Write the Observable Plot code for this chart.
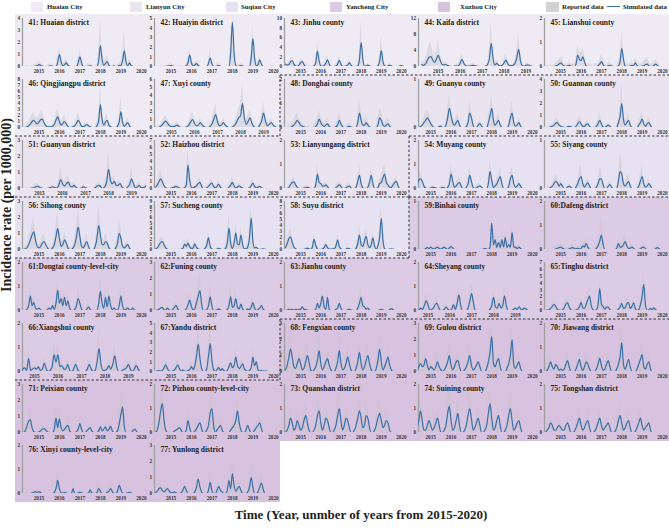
<!DOCTYPE html>
<html><head><meta charset="utf-8">
<script src="https://cdn.jsdelivr.net/npm/d3@7"></script>
<script src="https://cdn.jsdelivr.net/npm/@observablehq/plot@0.6"></script>
<style>
body{margin:0;background:#fff;}
#chart{position:relative;width:669px;height:529px;overflow:hidden;background:#fff;font-family:"Liberation Serif","Times New Roman",serif;color:#222;}
.lg{position:absolute;font-weight:bold;font-size:6.8px;line-height:11px;top:1px;white-space:nowrap;}
.sw{position:absolute;top:2px;height:10px;}
</style></head>
<body><div id="chart"></div>
<script>
// ---------- panel metadata ----------
const panelNo = [41,42,43,44,45,46,47,48,49,50,51,52,53,54,55,56,57,58,59,60,61,62,63,64,65,66,67,68,69,70,71,72,73,74,75,76,77];
const panelName = ["Huaian district","Huaiyin district","Jinhu county","Kaifa district","Lianshui county","Qingjiangpu district","Xuyi county","Donghai county","Guanyu county","Guannan county","Guanyun district","Haizhou district","Lianyungang district","Muyang county","Siyang county","Sihong county","Sucheng county","Suyu district","Binhai county","Dafeng district","Dongtai county-level-city","Funing county","Jianhu county","Sheyang county","Tinghu district","Xiangshui county","Yandu district","Fengxian county","Gulou district","Jiawang district","Peixian county","Pizhou county-level-city","Quanshan district","Suining county","Tongshan district","Xinyi county-level-city","Yunlong district"];
const panelCity = [0,0,0,0,0,0,0,1,1,1,1,1,1,2,2,2,2,2,3,3,3,3,3,3,3,3,3,4,4,4,4,4,4,4,4,4,4];
const yMax  = [4,5,10,12,2, 8,6,2,1,4, 3,7,2,2,1, 3,9,8,1,2, 2,3,2,2,7, 2,5,3,3,2, 3,2,2,2,2, 2,3];
const yStep = [1,1,2,4,1, 1,1,1,1,1, 1,1,1,1,1, 1,1,1,1,1, 1,1,1,1,1, 1,1,1,1,1, 1,1,1,1,1, 1,1];
const xStart = [2014.2,2014.2,2014.2,2014.1,2014.2, 2014.2,2014.26,2014.2,2014.4,2014.2, 2014.26,2014.2,2014.2,2014.4,2014.2, 2014.2,2014.2,2014.2,2014.4,2014.2, 2014.2,2014.2,2014.2,2014.57,2014.2, 2014.49,2014.2,2014.2,2014.4,2014.2, 2014.2,2014.2,2014.2,2014.4,2014.2, 2014.2,2014.2];
const xEnd = [2020.25,2020.25,2020.25,2019.48,2020.25, 2020.25,2019.65,2020.25,2020.2,2020.25, 2019.65,2020.25,2020.25,2020.2,2020.25, 2020.25,2020.25,2020.25,2020.2,2020.25, 2020.25,2020.25,2020.25,2019.96,2020.25, 2019.77,2020.25,2020.25,2020.2,2020.25, 2020.25,2020.25,2020.25,2020.2,2020.25, 2020.25,2020.25];
const lastYear = [2020,2020,2020,2019,2020, 2020,2019,2020,2020,2020, 2019,2020,2020,2020,2020, 2020,2020,2020,2020,2020, 2020,2020,2020,2019,2020, 2019,2020,2020,2020,2020, 2020,2020,2020,2020,2020, 2020,2020];
const cityName = ["Huaian City","Lianyun City","Suqian City","Yancheng City","Xuzhou City"];
const cityColor = ["#eeebf5","#eae4f1","#e6e2f1","#dccbe5","#d7c3e0"];
const titleColon = [": ",": ",": ",":",": "];
const seriesStart = 2014.25; // first monthly value (April 2014)

// ---------- monthly values: simulated (s) and reported (r) ----------
const s41=[0,0,0,0,0,0,0,.03,.06, .15,.1,.03,0,0,0,.03,.05,.02,0,0,.35, 1.0,.4,.05,.15,.3,.12,0,0,0,0,0,.3, .8,.3,0,0,0,.03,.05,.02,0,0,0,.5, 1.75,.6,.1,.25,.4,.1,0,0,.05,0,0,.1, .1,.5,1.3,.4,.05,.3,.1,0,0,0,0,0, 0,0];
const r41=[0,0,.1,0,0,.1,.1,.2,.2, .4,.3,.1,.1,0,.1,.2,.2,.1,0,.1,.8, 1.6,.9,.2,.4,.6,.3,.1,0,0,0,.1,.6, 1.4,.7,.1,0,.1,.2,.2,.1,0,0,.2,1.2, 4.0,1.2,.4,.6,.9,.3,.1,.1,.2,0,.1,.3, .4,1.2,3.0,.9,.2,.6,.4,.1,0,0,0,.1, .1,0];
const s42=[0,0,0,0,0,0,0,.03,.06, .1,.05,0,0,0,0,0,0,0,.05,.4,1.2, .4,.05,.15,.3,.1,0,0,0,0,0,.3,.9, .3,0,0,.05,.1,.03,0,0,0,0,0,1.4, 4.6,1.4,.1,0,.05,.1,.05,0,0,0,0,.9, 2.9,.9,.05,.2,.7,.25,0,0,0,0,0,0, 0,0];
const r42=[0,0,.1,0,.1,.1,.1,.1,.2, .3,.2,.1,0,0,.1,0,0,.1,.2,.8,1.9, .8,.3,.4,.6,.3,.1,0,0,0,.1,.6,1.6, .6,.1,.1,.2,.3,.1,0,0,0,0,.2,2.2, 5.0,2.2,.4,.2,.2,.3,.2,.1,0,0,.1,1.6, 4.2,1.6,.3,.5,1.2,.5,.1,0,0,0,0,.1, .1,0];
const s43=[.5,.3,.4,1.0,1.2,.5,.1,0,.3, .8,1.0,.4,0,0,0,0,0,.1,.8,3.2,1.2, .1,0,.2,.7,1.4,.5,0,0,0,.1,.5,1.3, .5,0,0,.1,.3,.8,.3,0,0,0,.1,1.5, 5.0,1.6,.1,.1,.3,.1,0,0,0,0,.1,1.1, 3.3,1.0,.1,0,.1,.3,.1,0,0,0,0,.1, .2,.1];
const r43=[.8,.6,.7,1.6,2.0,.9,.3,.2,.6, 1.4,1.6,.8,.2,.1,.2,.1,.1,.3,1.5,5.0,2.0, .4,.2,.5,1.2,2.2,.9,.2,.1,.1,.3,.9,2.2, 1.0,.2,.2,.3,.6,1.4,.6,.1,.1,.1,.4,2.5, 9.5,3.0,.4,.3,.6,.3,.1,.1,0,.1,.3,2.0, 6.5,2.0,.3,.1,.3,.6,.2,.1,0,.1,.1,.3, .4,.2];
const s44=[.5,.3,.6,1.5,2.3,2.5,1.6,1.0,1.8, 2.8,1.6,.6,.4,.5,.3,.1,0,0,.1,.1,.2, .8,1.8,.8,.2,.1,.1,.2,.3,.2,.1,0,0, 0,0,.1,.5,2.0,5.8,2.0,.4,.8,.3,.1,.3, .9,1.6,.7,.2,.2,.3,.8,2.2,4.3,1.4,.2,.1, .3,.4,.2,.1,0,0,0,0,0,0,0,0, 0,0];
const r44=[1.5,1.2,2.0,3.5,5.5,6.0,4.0,2.5,4.0, 6.5,3.5,1.5,1.0,1.2,.8,.3,.1,.1,.3,.3,.5, 1.8,3.2,1.6,.5,.3,.3,.5,.8,.5,.2,.1,.1, .1,.1,.3,1.2,4.5,11.5,4.0,1.0,1.8,.7,.3,.6, 1.8,3.5,1.5,.5,.5,.7,1.6,4.5,8.0,3.0,.5,.2, .7,.9,.5,.2,.1,0,0,0,0,0,0,0, 0,0];
const s45=[0,0,0,0,0,0,.02,.05,.1, .15,.08,.02,0,.03,.05,.02,0,0,.1,.47,.3, .25,.4,.2,.02,0,0,0,0,0,0,.03,.1, .2,.08,0,0,.03,.05,.02,0,0,0,.02,.2, .76,.3,.02,0,0,.02,.05,.03,.15,.05,0,0, .02,.03,.08,.1,.03,0,0,.05,.1,.04,0,0, 0,0];
const r45=[0,.1,0,.1,0,.1,.1,.2,.3, .4,.3,.1,.1,.1,.2,.1,.1,.1,.3,.9,.6, .6,.8,.5,.1,.1,.1,.1,0,.1,.1,.1,.3, .5,.3,.1,.1,.1,.2,.1,.1,0,0,.2,.5, 1.4,.7,.2,.1,.1,.1,.2,.1,.4,.2,.1,.1, .1,.2,.3,.4,.2,.1,.1,.2,.3,.2,.1,0, 0,0];
const s46=[0,0,.1,.3,.6,1.0,1.2,.8,.6, .9,1.3,1.4,.8,.3,.1,.1,.1,.2,.5,1.2,1.8, 1.0,.4,.7,1.0,.6,.2,0,0,.1,.3,.7,1.2, .8,.2,.1,.3,.5,.3,.1,0,0,0,.3,1.2, 3.8,1.3,.4,.9,1.2,.4,.1,0,0,0,.2,.9, 2.6,.9,.2,.5,.8,.3,0,0,0,0,0,0, 0,0];
const r46=[.3,.3,.5,.8,1.5,2.2,2.6,1.8,1.4, 2.0,2.6,2.8,1.6,.7,.3,.3,.3,.5,1.0,2.3,3.2, 2.0,1.0,1.4,2.0,1.2,.5,.1,.1,.3,.7,1.4,2.4, 1.6,.5,.3,.6,1.0,.6,.2,.1,.1,.1,.6,2.5, 7.0,2.5,.9,1.8,2.3,.9,.3,.1,.1,.1,.5,1.8, 5.0,1.8,.5,1.0,1.6,.6,.1,.1,0,0,.1,.1, 0,0];
const s47=[0,0,0,.1,.3,.6,.8,.5,.2, .1,.1,.2,.3,.1,0,0,0,.1,.3,.7,1.0, .5,.2,.3,.6,.3,.1,0,0,.1,.4,1.0,1.6, .7,.2,.3,.6,.3,.1,0,0,.1,.3,.7,1.2, 1.5,3.0,1.2,.4,.8,1.2,.5,.1,0,0,.3,.8, 1.8,.8,.2,.4,.6,.3,.1,0,0,0,0,0, 0,0];
const r47=[.1,.1,.2,.3,.6,1.2,1.5,1.0,.5, .4,.3,.5,.7,.3,.1,.1,.1,.2,.6,1.4,2.0, 1.1,.5,.7,1.2,.7,.3,.1,.1,.3,.8,2.0,3.0, 1.4,.5,.6,1.2,.7,.2,.1,.1,.2,.6,1.4,2.4, 3.0,5.5,2.4,.8,1.6,2.2,1.0,.3,.1,.1,.6,1.6, 3.4,1.6,.5,.8,1.2,.6,.2,.1,0,0,0,0, 0,0];
const s48=[0,0,0,0,.05,.1,.2,.3,.2, .1,.05,.02,0,0,0,0,0,0,.05,.15,.35, .2,.1,.05,.1,.15,.05,0,0,0,.03,.1,.3, .15,.03,0,0,.03,.05,.02,0,0,0,.2,.6, .3,.1,.1,.2,.1,.03,0,0,0,0,.1,.4, .3,.1,.05,.1,.15,.05,0,0,0,0,0,0, 0,0];
const r48=[0,0,.1,.1,.2,.3,.5,.6,.4, .3,.2,.1,.1,0,.1,0,0,.1,.2,.4,.7, .5,.3,.2,.3,.4,.2,.1,0,0,.1,.3,.6, .4,.1,.1,0,.1,.2,.1,0,0,.1,.5,1.2, .7,.3,.3,.5,.3,.1,0,0,0,.1,.3,.8, .7,.3,.2,.3,.4,.2,.1,0,0,0,0,0, 0,0];
const s49=[0,0,0,.02,.05,.1,.15,.2,.15, .08,.03,0,0,0,.02,.03,0,0,.05,.2,.4, .25,.1,.05,.1,.15,.05,0,0,0,.02,.1,.3, .2,.05,0,0,.05,.08,.03,0,0,0,.1,.25, .4,.15,.05,.1,.15,.05,0,0,0,0,.05,.2, .3,.1,.03,.05,.1,.03,0,0,0,0,0,0, 0,0];
const r49=[0,0,.05,.05,.1,.2,.3,.35,.3, .15,.08,.02,0,0,.05,.05,0,0,.1,.35,.7, .45,.2,.1,.2,.3,.1,0,0,0,.05,.2,.55, .35,.1,0,0,.1,.15,.05,0,0,0,.2,.45, .7,.3,.1,.2,.3,.1,0,0,0,0,.1,.35, .55,.2,.05,.1,.2,.1,0,0,0,0,0,0, 0,0];
const s50=[0,0,0,.05,.1,.2,.35,.4,.2, .1,.05,0,0,.05,.1,.05,0,0,.1,.3,.5, .3,.1,.1,.25,.3,.1,0,0,0,.1,.3,.6, .3,.05,0,.1,.2,.1,0,0,0,0,.4,.9, 2.0,.7,.2,.4,.6,.2,0,0,0,0,.2,.4, .7,.3,.1,.3,.4,.15,0,0,0,0,0,0, 0,0];
const r50=[0,0,.1,.1,.3,.4,.7,.8,.4, .2,.1,.1,0,.1,.2,.1,0,0,.2,.6,1.0, .6,.2,.2,.5,.6,.2,0,0,0,.2,.6,1.2, .6,.1,0,.2,.4,.2,0,0,0,0,.8,1.8, 3.8,1.4,.4,.8,1.1,.4,.1,0,0,0,.4,.8, 1.4,.6,.2,.6,.8,.3,0,0,0,0,0,0, 0,0];
const s51=[0,0,0,0,0,.02,.05,.1,.15, .08,.02,0,0,0,.03,.08,.1,.05,.02,.2,.55, .3,.15,.3,.4,.15,.1,.2,.08,0,0,.05,.1, .05,0,0,0,0,.05,.15,.2,.1,0,.1,.4, 1.2,.5,.3,.45,.2,.2,.3,.1,0,0,.1,.25, .6,.3,.05,.1,.2,.05,.05,.1,.2,.1,0,0, 0,0];
const r51=[0,0,.05,.05,.1,.1,.2,.3,.3, .2,.1,.05,0,.05,.1,.2,.2,.1,.05,.5,1.4, .7,.4,.6,.8,.4,.3,.4,.2,.1,0,.1,.3, .1,.1,.05,0,.05,.1,.3,.4,.2,.1,.3,.9, 2.3,1.0,.6,.8,.4,.4,.5,.2,.1,0,.2,.5, 1.4,.6,.2,.2,.4,.1,.1,.2,.4,.2,0,0, 0,0];
const s52=[.2,.5,1.0,1.4,1.0,.4,.1,0,0, .05,.1,.2,.3,.2,.05,0,0,.1,.5,3.4,1.2, .2,.1,.2,.4,.7,.9,.3,0,0,.1,.3,.6, .8,.3,.1,.3,.6,.2,0,0,0,0,.2,.5, .9,.4,.1,.2,.4,.2,.05,0,0,0,.1,.4, .8,.3,.1,.2,.3,.1,0,0,0,0,0,0, 0,0];
const r52=[.3,.9,1.8,2.6,1.8,.8,.2,.1,.1, .2,.3,.4,.6,.4,.1,0,.1,.3,1.1,5.5,2.3, .5,.3,.4,.8,1.2,1.6,.6,.1,.1,.3,.6,1.2, 1.5,.6,.3,.6,1.1,.4,.1,0,0,.1,.4,1.0, 1.7,.8,.3,.4,.8,.4,.1,0,0,0,.2,.8, 1.5,.6,.3,.4,.6,.2,0,0,0,0,0,0, 0,0];
const s53=[0,0,.05,.15,.25,.28,.15,.05,0, 0,0,.02,.03,.05,.03,0,0,0,.15,.6,.25, .2,.1,.1,.15,.08,0,0,0,0,.03,.1,.15, .08,0,0,.03,.08,.1,.03,0,0,.05,.3,.55, .2,.02,0,0,.05,.25,.55,.2,0,0,.05,.2, .25,.45,.6,.25,.15,.05,.05,.15,.25,.3,.1,0, 0,0];
const r53=[0,.05,.1,.3,.4,.5,.3,.1,.05, .05,.05,.1,.1,.1,.05,0,0,.05,.3,1.0,.5, .4,.2,.2,.3,.2,.05,0,0,0,.1,.2,.3, .2,.05,0,.1,.2,.2,.1,0,0,.1,.5,1.0, .4,.1,.05,0,.1,.4,.9,.4,.1,0,.1,.4, .5,.8,1.0,.5,.3,.1,.1,.3,.4,.5,.2,0, 0,0];
const s54=[.1,.2,.35,.4,.3,.1,.02,0,0, .02,.05,.05,.02,0,0,.02,.05,.03,0,.05,.2, .6,.3,.05,.1,.2,.25,.1,0,0,.05,.2,.55, .3,.05,0,.03,.08,.1,.05,0,0,0,.2,.7, .35,.05,.1,.2,.35,.5,.2,0,0,0,.1,.4, .55,.2,.05,.1,.2,.1,0,0,0,0,0,0, 0,0];
const r54=[.2,.4,.6,.7,.5,.2,.1,0,0, .05,.1,.1,.05,0,0,.05,.1,.05,0,.1,.4, 1.0,.6,.1,.2,.4,.5,.2,0,0,.1,.4,.9, .5,.1,0,.1,.2,.2,.1,0,0,0,.4,1.1, .6,.1,.2,.4,.6,.9,.4,.1,0,0,.2,.7, .9,.4,.1,.2,.4,.2,0,0,0,0,0,0, 0,0];
const s55=[0,0,0,.02,.05,.1,.15,.12,.05, .1,.05,0,0,.03,.05,.02,0,0,.03,.1,.2, .25,.1,.03,.08,.12,.05,0,0,0,.03,.1,.2, .2,.08,0,0,.05,.08,.03,0,0,0,.15,.35, .3,.1,.05,.1,.15,.05,0,0,0,0,.05,.15, .25,.1,.03,.05,.1,.05,0,0,0,0,0,0, 0,0];
const r55=[0,0,.05,.05,.1,.2,.3,.25,.1, .2,.1,.05,0,.05,.1,.05,0,0,.05,.2,.4, .5,.2,.05,.15,.25,.1,0,0,0,.05,.2,.4, .4,.15,0,0,.1,.15,.05,0,0,0,.3,.7, .6,.2,.1,.2,.3,.1,0,0,0,0,.1,.3, .5,.2,.05,.1,.2,.1,0,0,0,0,0,0, 0,0];
const s56=[0,.05,.1,.3,.6,.9,1.1,.6,.2, .1,.2,.4,.5,.3,.1,0,0,.1,.3,.8,1.3, .7,.2,.3,.6,.4,.1,0,0,.1,.3,.8,1.4, .8,.2,.1,.3,.5,.2,0,0,0,.2,.7,1.5, .9,.3,.3,.5,.4,.1,0,0,0,.1,.4,1.0, .7,.2,.1,.2,.3,.1,0,0,0,0,0,0, 0,0];
const r56=[.1,.2,.3,.6,1.1,1.6,2.0,1.2,.5, .3,.4,.8,1.0,.6,.2,.1,.1,.3,.6,1.5,2.4, 1.4,.5,.6,1.1,.8,.3,.1,.1,.3,.6,1.5,2.6, 1.6,.5,.3,.6,1.0,.4,.1,0,.1,.4,1.3,2.8, 1.8,.6,.6,1.0,.8,.3,.1,0,0,.2,.8,1.9, 1.4,.5,.2,.4,.6,.2,0,0,0,0,0,0, 0,0];
const s57=[.1,.3,.8,1.3,1.5,.9,.3,.05,0, 0,0,0,0,0,0,.05,.2,1.0,.6,1.2,.5, .2,.3,1.0,.4,.1,0,0,0,.2,.8,2.2,.6, .1,0,0,.1,.2,.1,0,0,.2,1.2,4.0,1.2, .2,1.2,3.1,1.0,.9,2.7,.9,.1,.1,.5,2.2,5.9, 1.6,.3,.4,.1,0,.05,.1,.05,0,0,0,0, 0,0];
const r57=[.3,.6,1.4,2.2,2.4,1.5,.6,.2,.1, .1,.1,.1,.1,.1,.1,.2,.5,1.8,1.1,2.1,1.0, .5,.6,1.7,.8,.3,.1,.1,.1,.5,1.4,3.5,1.1, .3,.1,.1,.2,.4,.2,.1,.1,.5,2.0,6.5,2.0, .6,2.0,4.8,1.8,1.5,4.2,1.6,.3,.2,1.0,3.5,8.2, 2.6,.7,.7,.2,.1,.1,.2,.1,0,0,0,0, 0,0];
const s58=[.3,1.0,1.8,2.1,1.2,.4,.1,0,0, 0,0,0,.1,.2,.1,0,.4,1.7,.7,.1,0, 0,.1,.3,.8,.3,.05,.05,.1,.1,.6,1.55,.5, .1,0,0,.05,.2,.1,0,0,0,.2,1.0,2.4, .8,.5,1.4,2.2,.8,.3,.8,1.9,.6,.1,.6,2.0, 5.2,1.6,.1,0,0,.05,.1,.05,0,0,0,0, 0,0];
const r58=[.6,1.6,2.8,3.6,2.0,.8,.3,.1,.1, .1,.1,.2,.3,.5,.3,.1,.8,2.6,1.2,.3,.1, .1,.3,.6,1.4,.7,.2,.1,.2,.3,1.0,2.5,1.0, .3,.1,.1,.2,.5,.3,.1,0,.1,.4,1.8,4.0, 1.5,1.0,2.4,3.5,1.5,.6,1.4,3.0,1.1,.3,1.0,3.2, 7.2,2.6,.3,.1,.1,.1,.3,.1,0,0,0,0, 0,0];
const s59=[0,0,0,0,0,0,.02,.04,.02, .05,.02,.01,.03,.05,.02,.01,.03,.05,.02,0,.03, .06,.03,0,0,0,0,0,0,0,0,0,0, 0,0,0,0,0,0,0,.01,.02,.01,0,.05, .55,.1,.2,.04,.15,.04,.2,.05,.25,.04,.1,.05, .35,.05,.05,.02,.05,.02,0,0,0,0,0,0, 0,0];
const r59=[0,0,0,.01,.01,.02,.04,.06,.04, .08,.04,.03,.05,.08,.04,.02,.05,.08,.04,.01,.05, .1,.05,.01,0,0,0,0,0,0,0,0,.01, .01,0,0,0,0,0,.01,.03,.04,.02,.01,.15, .75,.3,.35,.12,.3,.1,.35,.15,.4,.1,.2,.1, .5,.1,.1,.05,.1,.05,0,0,0,0,0,0, 0,0];
const s60=[0,0,0,0,0,0,.02,.05,.08, .1,.05,.02,0,0,.03,.06,.08,.04,.03,.05,.03, .05,.15,.1,.25,.1,0,0,0,0,.05,.15,.35, .6,.2,0,0,0,0,0,0,0,.05,.25,.1, .1,.2,.33,.15,.05,.05,.1,.05,0,0,0,.02, .08,.1,.03,0,0,0,0,0,.03,.08,.04,0, 0,0];
const r60=[0,0,.05,0,.05,.1,.1,.15,.2, .25,.15,.05,.05,.05,.1,.15,.2,.1,.1,.15,.1, .15,.35,.25,.5,.25,.05,.05,.05,.1,.15,.4,.7, 1.4,.5,.05,0,0,0,0,0,.05,.15,.5,.3, .3,.5,.7,.35,.15,.15,.25,.1,0,0,.05,.05, .2,.25,.1,0,0,0,0,.05,.1,.2,.1,0, 0,0];
const s61=[0,0,.05,.2,.6,.2,.35,.1,.05, .1,.03,0,0,0,.03,.1,.05,.2,.05,.3,.85, .3,.5,.2,.55,.2,.4,.1,0,0,.05,.2,.5, .3,.05,0,0,.05,.15,.05,0,0,0,0,.3, .8,.3,.1,.55,.15,.6,.2,.03,.1,.03,0,.2, .6,.2,.02,.05,.1,.03,.02,.1,.02,0,0,0, 0,0];
const r61=[0,.05,.1,.4,1.0,.4,.6,.2,.1, .2,.1,0,0,.05,.1,.2,.1,.35,.1,.5,1.3, .6,.9,.4,.9,.4,.7,.2,.05,0,.1,.4,.9, .6,.1,0,0,.1,.3,.1,0,0,0,.05,.6, 1.4,.6,.2,.9,.3,1.0,.4,.1,.2,.1,0,.4, 1.0,.4,.05,.1,.2,.1,.05,.2,.05,0,0,0, 0,0];
const s62=[0,.02,.08,.15,.2,.05,.03,.15,.03, 0,.05,.2,.3,.1,0,0,0,0,.1,.35,.65, .25,.05,.1,.5,.9,1.25,.4,0,0,.05,.3,.85, .3,0,0,.05,.1,.03,0,0,0,.05,.3,.85, .2,.3,.75,.2,.1,.4,.1,0,0,.1,.05,.2, .5,.15,0,.05,.15,.3,.1,0,0,0,0,0, 0,0];
const r62=[0,.05,.15,.3,.4,.15,.1,.3,.1, .05,.1,.4,.5,.2,.05,0,0,.05,.2,.6,1.1, .5,.1,.2,.9,1.6,2.5,.8,.1,0,.1,.6,1.7, .6,.05,0,.1,.2,.1,0,0,0,.1,.6,1.7, .5,.6,1.4,.4,.2,.7,.2,0,0,.2,.1,.4, .9,.3,0,.1,.3,.6,.2,0,0,0,0,0, 0,0];
const s63=[0,.02,.05,.03,.05,.02,.05,.03,.05, .05,.15,.05,.03,.02,0,0,0,0,.05,.3,.1, .3,.6,.15,.05,.55,.05,0,0,0,.05,.1,.3, .1,0,0,0,.03,.05,.02,0,0,0,.1,.3, .55,.2,.15,.05,.1,.02,0,0,0,0,0,.02, .05,.02,0,0,0,.03,.08,.03,0,0,0,0, 0,0];
const r63=[0,.05,.1,.05,.1,.05,.1,.05,.1, .1,.3,.1,.05,.05,0,0,0,0,.1,.6,.2, .6,1.1,.3,.1,.9,.1,0,0,0,.1,.2,.6, .2,0,0,0,.05,.1,.05,0,0,0,.2,.6, 1.0,.4,.3,.1,.2,.05,0,0,0,0,0,.05, .1,.05,0,0,0,.05,.15,.05,0,0,0,0, 0,0];
const s64=[0,0,0,0,0,.1,.05,.2,.4, .25,0,.05,.1,.25,.3,.1,0,0,.05,.15,.05, 0,.05,.25,.05,.3,.65,.2,0,0,0,.1,.4, .7,.3,0,0,0,0,0,0,0,0,.05,.2, .55,.15,.1,.3,.1,.2,.6,.2,0,0,0,.05, .1,.05,.15,.05,.05,.1,.05,0,0,0,0,0, 0,0];
const r64=[0,0,0,0,.05,.2,.1,.4,.7, .5,.05,.1,.2,.5,.6,.2,.05,0,.1,.3,.1, 0,.1,.5,.1,.6,1.1,.4,0,0,0,.2,.8, 1.2,.5,0,0,0,0,0,0,0,0,.1,.4, .9,.3,.2,.6,.2,.4,1.0,.4,0,0,0,.1, .2,.1,.3,.1,.1,.2,.1,0,0,0,0,0, 0,0];
const s65=[0,.05,.1,.3,.6,.9,.6,.2,.05, 0,.1,.4,.9,1.15,.5,.1,0,0,.05,.2,.5, 1.2,.4,.3,.9,1.6,2.1,.7,.1,0,.1,.8,3.2, .9,.6,.2,.5,.5,.1,0,0,0,0,.2,.5, 1.05,.3,.4,1.0,1.2,.3,.6,1.1,.3,0,.1,.8, 2.0,3.8,.8,0,.1,.3,.1,.4,.1,0,0,0, 0,0];
const r65=[0,.1,.2,.5,1.1,1.6,1.1,.4,.1, .1,.3,.8,1.7,2.0,.9,.2,.1,.1,.2,.5,.9, 1.9,.8,.6,1.6,2.6,3.5,1.2,.2,.1,.3,1.5,5.0, 1.6,1.1,.4,.9,.9,.3,.1,0,0,.1,.4,1.0, 1.8,.6,.7,1.7,2.0,.6,1.0,1.8,.6,.1,.2,1.4, 3.5,6.0,1.5,.1,.2,.5,.2,.7,.2,0,0,0, 0,0];
const s66=[0,0,0,.1,.15,.05,.55,.05,.1, .15,.1,.2,.05,.1,.35,.1,0,.05,.2,.7,.4, .7,.2,.25,.1,.1,.3,.05,0,.1,.3,.1,0, 0,0,0,.1,.3,.1,0,.05,.4,.95,.3,.05, .05,.1,.25,.1,.3,.65,.2,0,0,.05,.1,.15, .3,.1,0,.1,.25,.1,0,0,0,0,0,0, 0,0];
const r66=[0,0,0,.2,.3,.1,1.0,.1,.2, .3,.2,.4,.1,.2,.6,.2,0,.1,.4,1.2,.7, 1.3,.4,.5,.2,.2,.5,.1,0,.2,.5,.2,0, 0,0,0,.2,.5,.2,0,.1,.7,1.8,.5,.1, .2,.2,.5,.2,.5,1.1,.4,0,0,.1,.2,.3, .6,.2,0,.2,.5,.2,0,0,0,0,0,0, 0,0];
const s67=[0,.05,.1,.05,.1,.4,.7,.3,.05, 0,.05,.15,.4,.7,.3,.05,.15,.05,0,.1,.2, .5,.2,.6,1.6,2.85,1.4,.3,0,0,.3,1.6,2.9, 1.2,.2,0,.2,.4,.1,.3,.1,0,.1,.5,.9, .4,.6,1.5,.6,.3,.5,.8,.3,.1,0,.1,.4, 1.5,.6,1.0,.2,.05,.1,.05,.05,.05,0,0,0, 0,0];
const r67=[0,.1,.2,.1,.2,.7,1.2,.6,.1, .1,.1,.3,.7,1.2,.6,.1,.3,.1,0,.2,.4, 1.0,.4,1.1,2.7,4.8,2.4,.6,0,0,.6,2.8,4.9, 2.0,.4,0,.4,.7,.2,.5,.2,0,.2,.8,1.6, .8,1.1,2.6,1.1,.5,.9,1.4,.5,.2,0,.2,.7, 2.6,1.1,1.7,.4,.1,.2,.1,.1,.1,0,0,0, 0,0];
const s68=[.1,.4,.9,1.4,.9,.3,.2,.5,.8, .5,.1,.2,.6,1.0,.6,.1,0,.1,.3,.7,1.3, .5,.1,.3,.6,.8,.4,.1,0,0,.2,.6,1.3, .5,.1,.2,.5,.9,.5,.1,0,0,.2,.6,1.2, .5,.1,.3,.7,1.0,.5,.1,0,0,.2,.7,1.4, .6,.1,.3,.6,.9,.4,.1,0,0,0,0,0, 0,0];
const r68=[.2,.7,1.5,2.3,1.5,.5,.4,.9,1.4, .9,.2,.4,1.0,1.7,1.0,.2,0,.2,.6,1.2,2.2, .9,.2,.5,1.0,1.4,.7,.2,0,0,.4,1.0,2.2, .9,.2,.4,.9,1.5,.9,.2,0,0,.4,1.0,2.0, .9,.2,.5,1.2,1.7,.9,.2,0,0,.4,1.2,2.3, 1.0,.2,.5,1.0,1.5,.7,.2,0,0,0,0,0, 0,0];
const s69=[0,.1,.3,.5,.3,.4,.8,.4,.1, .3,.2,.1,.3,.6,.3,.1,0,.1,.3,.6,1.0, .4,.1,.3,.6,.7,.3,0,0,.1,.3,.6,1.0, .4,.1,.2,.4,.6,.3,0,0,0,.2,.6,1.2, 2.2,.5,.3,.6,.8,.3,0,0,0,.2,.5,1.0, 2.0,.4,.2,.4,.6,.2,0,0,0,0,0,0, 0,0];
const r69=[0,.2,.6,.9,.6,.7,1.4,.7,.2, .6,.4,.2,.6,1.0,.6,.2,0,.2,.6,1.0,1.7, .7,.2,.6,1.0,1.2,.5,0,0,.2,.6,1.0,1.7, .7,.2,.4,.7,1.0,.5,0,0,0,.4,1.0,2.0, 3.0,.9,.5,1.0,1.4,.5,0,0,0,.4,.9,1.7, 2.9,.7,.4,.7,1.0,.4,0,0,0,0,0,0, 0,0];
const s70=[0,.05,.2,.4,.2,.1,.3,.2,.05, .1,.05,.1,.3,.45,.2,0,0,0,.1,.3,.5, .2,.05,.2,.4,.3,.1,0,0,0,.1,.3,.55, .25,.05,.1,.3,.45,.2,0,0,0,.1,.3,.6, 1.2,.3,.1,.3,.5,.2,0,0,0,.1,.3,.5, .7,.2,.1,.3,.4,.1,0,0,0,0,0,0, 0,0];
const r70=[0,.1,.4,.7,.4,.2,.5,.4,.1, .2,.1,.2,.5,.8,.4,0,0,0,.2,.5,.9, .4,.1,.4,.7,.5,.2,0,0,0,.2,.5,1.0, .5,.1,.2,.5,.8,.4,0,0,0,.2,.5,1.0, 1.9,.5,.2,.5,.9,.4,0,0,0,.2,.5,.9, 1.2,.4,.2,.5,.7,.2,0,0,0,0,0,0, 0,0];
const s71=[0,.1,.4,.7,.8,.3,.05,0,0, .05,.1,.2,.25,.15,.05,0,0,0,.2,.9,.3, .85,.3,.1,.2,.35,.45,.1,0,0,0,.05,.2, .55,.2,0,0,.1,.2,.3,.1,0,0,0,.1, .35,.1,.2,.35,.1,.2,.4,.1,0,0,.1,.5, 1.1,1.6,.4,0,0,0,0,.1,.2,.1,0,0, 0,0];
const r71=[0,.2,.7,1.2,1.4,.5,.1,0,0, .1,.2,.4,.4,.3,.1,0,0,0,.4,1.5,.5, 1.5,.5,.3,.4,.6,.8,.2,0,0,0,.1,.4, 1.0,.4,0,0,.2,.4,.5,.2,0,0,0,.2, .6,.2,.4,.6,.2,.4,.7,.2,0,0,.2,.9, 1.9,2.7,.7,0,0,0,0,.2,.4,.2,0,0, 0,0];
const s72=[0,.1,.4,.9,1.2,.5,.1,0,0, 0,0,.05,.1,.15,.2,.1,0,0,.1,.5,.2, 0,0,.05,.15,.3,.4,.15,0,0,.1,.3,.8, 1.0,.3,0,.1,.2,.3,.1,0,0,0,0,.1, .2,.3,.5,.9,.4,.1,0,0,.1,.3,.1,0, 0,.1,.2,.3,.4,.15,0,0,0,0,0,0, 0,0];
const r72=[0,.2,.7,1.5,1.9,.9,.2,0,0, 0,0,.1,.2,.3,.4,.2,0,0,.2,.9,.4, 0,0,.1,.3,.5,.7,.3,0,0,.2,.5,1.4, 1.7,.5,0,.2,.4,.5,.2,0,0,0,0,.2, .4,.5,.9,1.6,.7,.2,0,0,.2,.5,.2,0, 0,.2,.4,.5,.7,.3,0,0,0,0,0,0, 0,0];
const s73=[0,.1,.3,.6,.4,.1,.2,.5,.3, .1,.2,.5,.7,.4,.1,0,0,.1,.3,.7,.9, .4,.1,.3,.6,.5,.2,0,0,.1,.3,.7,1.0, .5,.1,.3,.6,.5,.2,0,0,.1,.3,.6,.9, .6,.2,.3,.7,.6,.2,0,0,.1,.3,.6,.8, .5,.2,.3,.5,.4,.1,0,0,0,0,0,0, 0,0];
const r73=[0,.2,.5,1.0,.7,.2,.4,.9,.5, .2,.4,.9,1.2,.7,.2,0,0,.2,.5,1.2,1.5, .7,.2,.5,1.0,.9,.4,0,0,.2,.5,1.2,1.7, .9,.2,.5,1.0,.9,.4,0,0,.2,.5,1.0,1.5, 1.0,.4,.5,1.2,1.0,.4,0,0,.2,.5,1.0,1.4, .9,.4,.5,.9,.7,.2,0,0,0,0,0,0, 0,0];
const s74=[0,.2,.5,.9,.5,.1,.1,.3,.5, .3,.1,.2,.4,.6,.3,0,0,.1,.3,.8,1.1, .5,.1,.2,.5,.8,.3,0,0,.1,.3,.7,1.0, .6,.1,.2,.4,.6,.3,0,0,.1,.3,.8,1.2, .6,.1,.2,.5,.7,.3,0,0,.1,.3,.7,1.0, .5,.1,.2,.4,.5,.2,0,0,0,0,0,0, 0,0];
const r74=[0,.4,.9,1.5,.9,.2,.2,.5,.9, .5,.2,.4,.7,1.0,.5,0,0,.2,.5,1.4,1.9, .9,.2,.4,.9,1.4,.5,0,0,.2,.5,1.2,1.7, 1.0,.2,.4,.7,1.0,.5,0,0,.2,.5,1.4,1.9, 1.0,.2,.4,.9,1.2,.5,0,0,.2,.5,1.2,1.7, .9,.2,.4,.7,.9,.4,0,0,0,0,0,0, 0,0];
const s75=[0,.1,.2,.4,.3,.1,.1,.2,.3, .2,.1,.1,.3,.4,.2,0,0,.05,.2,.4,.6, .3,.1,.2,.4,.5,.2,0,0,.05,.2,.4,.6, .3,.1,.2,.3,.4,.2,0,0,.05,.2,.5,.7, .4,.1,.2,.4,.5,.2,0,0,.05,.2,.4,.6, .3,.1,.2,.3,.4,.1,0,0,0,0,0,0, 0,0];
const r75=[0,.2,.4,.7,.5,.2,.2,.4,.5, .4,.2,.2,.5,.7,.4,0,0,.1,.4,.7,1.0, .5,.2,.4,.7,.9,.4,0,0,.1,.4,.7,1.0, .5,.2,.4,.5,.7,.4,0,0,.1,.4,.9,1.2, .7,.2,.4,.7,.9,.4,0,0,.1,.4,.7,1.0, .5,.2,.4,.5,.7,.2,0,0,0,0,0,0, 0,0];
const s76=[0,0,0,0,0,.02,.05,.08,.05, .08,.05,0,0,0,0,0,0,0,.05,.2,.55, .2,.03,.02,.05,.02,0,0,0,.2,0,0,.03, .05,.03,0,0,0,.02,.15,.02,0,0,.05,.2, .1,0,0,0,.05,.1,.2,.08,0,0,.1,.35, .15,.02,0,0,.03,.05,.02,0,0,0,0,0, 0,0];
const r76=[0,0,0,0,0,.05,.1,.15,.1, .15,.1,0,0,0,0,0,0,0,.1,.4,1.0, .4,.05,.05,.1,.05,0,0,0,.45,0,0,.05, .1,.05,0,0,0,.05,.3,.05,0,0,.1,.4, .2,0,0,0,.1,.2,.4,.15,0,0,.2,.6, .3,.05,0,0,.05,.1,.05,0,0,0,0,0, 0,0];
const s77=[.05,.15,.3,.35,.2,.1,.2,.3,.15, .05,.05,.1,.05,0,0,.05,.2,.45,.2,0,0, 0,0,.1,.4,.9,.4,.1,0,0,0,.2,.7, .2,0,0,.2,.45,.2,.1,0,0,.2,.8,.3, 1.25,.5,.15,.3,.45,.2,0,0,0,.1,.4,1.0, .4,0,0,.1,.4,.65,.3,0,0,0,0,0, 0,0];
const r77=[.1,.3,.6,.7,.4,.2,.4,.6,.3, .1,.1,.2,.1,0,0,.1,.4,.8,.4,0,0, 0,0,.2,.8,1.6,.8,.2,0,0,0,.4,1.3, .4,0,0,.4,.8,.4,.2,0,0,.4,1.5,.6, 2.3,.9,.3,.6,.8,.4,0,0,0,.2,.8,1.8, .8,0,0,.2,.8,1.2,.6,0,0,0,0,0, 0,0];

const simulated = [s41,s42,s43,s44,s45,s46,s47,s48,s49,s50,s51,s52,s53,s54,s55,s56,s57,s58,s59,s60,s61,s62,s63,s64,s65,s66,s67,s68,s69,s70,s71,s72,s73,s74,s75,s76,s77];
const reported  = [r41,r42,r43,r44,r45,r46,r47,r48,r49,r50,r51,r52,r53,r54,r55,r56,r57,r58,r59,r60,r61,r62,r63,r64,r65,r66,r67,r68,r69,r70,r71,r72,r73,r74,r75,r76,r77];

// ---------- layout ----------
const chart = document.getElementById("chart");
const ROW0 = 14, ROWH = 61;
const RT = r => ROW0 + ROWH * r;
const CL = [15, 147, 280, 409, 538, 669];
const colAxis = [22, 154, 284, 418, 544];
const colPlotW = [124, 124, 122, 118, 123];
const mL = 10, mR = 3, mT = 4, mB = 9;
const lineColor = "#3b6fa8";
const repColor = "#c4c4c4";

const toRows = arr => arr.map((v, k) => ({t: seriesStart + k / 12, v}));

// backgrounds
panelNo.forEach((no, i) => {
  const r = Math.floor(i / 5), c = i % 5;
  const d = document.createElement("div");
  d.style.cssText = `position:absolute;left:${CL[c]}px;top:${RT(r)}px;width:${CL[c+1]-CL[c]}px;height:${ROWH}px;background:${cityColor[panelCity[i]]};`;
  chart.appendChild(d);
});

// panels
panelNo.forEach((no, i) => {
  const r = Math.floor(i / 5), c = i % 5;
  const pw = colPlotW[c];
  const title = no + titleColon[panelCity[i]] + panelName[i];
  const svg = Plot.plot({
    width: mL + pw + mR, height: ROWH,
    marginLeft: mL, marginRight: mR, marginTop: mT, marginBottom: mB,
    style: {background: "transparent", overflow: "visible", maxWidth: "none",
            fontFamily: "Liberation Serif, Times New Roman, serif", fontSize: "5.2px", fontWeight: "bold", color: "#333"},
    x: {domain: [xStart[i], xEnd[i]], ticks: d3.range(2015, lastYear[i] + 1), tickFormat: d => String(d),
        tickSize: 0, tickPadding: 2.5, label: null},
    y: {domain: [0, yMax[i]], ticks: d3.range(0, yMax[i] + 1e-9, yStep[i]), tickFormat: d => String(d),
        tickSize: 0, tickPadding: 2.5, label: null},
    marks: [
      Plot.areaY(toRows(reported[i]), {x: "t", y: "v", fill: repColor, fillOpacity: 0.4, curve: "linear", clip: true}),
      Plot.ruleX([xStart[i]], {stroke: "#a0a0a0", strokeWidth: 1.3}),
      Plot.lineY(toRows(simulated[i]), {x: "t", y: "v", stroke: lineColor, strokeWidth: 1.2, curve: "monotone-x", clip: true}),
      Plot.text([title], {text: d => d, frameAnchor: "top-left", dx: 6, dy: 1, fontSize: 7.5, fontWeight: "bold",
                          fill: "#222", textAnchor: "start", lineAnchor: "top"})
    ]
  });
  svg.style.position = "absolute";
  svg.style.left = (colAxis[c] - mL) + "px";
  svg.style.top = RT(r) + "px";
  chart.appendChild(svg);
});

// dashed city boundaries
const ov = d3.select(chart).append("svg").attr("width", 669).attr("height", 529)
  .style("position", "absolute").style("left", "0px").style("top", "0px").style("pointer-events", "none");
const segs = [];
for (let i = 1; i < panelCity.length; i++) {
  if (panelCity[i] === panelCity[i - 1]) continue;
  const r = Math.floor(i / 5), c = i % 5;
  if (c > 0) {
    segs.push([CL[c], RT(r), CL[5], RT(r)]);
    segs.push([CL[c], RT(r), CL[c], RT(r + 1)]);
    segs.push([CL[0], RT(r + 1), CL[c], RT(r + 1)]);
  } else segs.push([CL[0], RT(r), CL[5], RT(r)]);
}
ov.selectAll("line").data(segs).join("line")
  .attr("x1", d => d[0]).attr("y1", d => d[1]).attr("x2", d => d[2]).attr("y2", d => d[3])
  .attr("stroke", "#333").attr("stroke-width", 1).attr("stroke-dasharray", "2.5,2");

// legend
const legendSwX = [31, 130, 226, 330, 438];
const legendTxX = [47, 146, 241, 346, 460];
cityName.forEach((name, k) => {
  const sw = document.createElement("div");
  sw.className = "sw"; sw.style.left = legendSwX[k] + "px"; sw.style.width = "12px"; sw.style.background = cityColor[k];
  chart.appendChild(sw);
  const tx = document.createElement("div");
  tx.className = "lg"; tx.style.left = legendTxX[k] + "px"; tx.textContent = name;
  chart.appendChild(tx);
});
{
  const sw = document.createElement("div");
  sw.className = "sw"; sw.style.left = "546px"; sw.style.width = "13px"; sw.style.background = "#d2d2d2";
  chart.appendChild(sw);
  const tx = document.createElement("div");
  tx.className = "lg"; tx.style.left = "562px"; tx.textContent = "Reported data";
  chart.appendChild(tx);
  const ln = document.createElement("div");
  ln.style.cssText = `position:absolute;left:607px;top:6px;width:13px;height:0;border-top:1.2px solid ${lineColor};`;
  chart.appendChild(ln);
  const tx2 = document.createElement("div");
  tx2.className = "lg"; tx2.style.left = "623px"; tx2.textContent = "Simulated data";
  chart.appendChild(tx2);
}

// axis titles
const yt = document.createElement("div");
yt.textContent = "Incidence rate (per 1000,000)";
yt.style.cssText = "position:absolute;left:-143px;top:197px;width:300px;text-align:center;transform:rotate(-90deg);font-weight:bold;font-size:14px;line-height:16px;white-space:nowrap;";
chart.appendChild(yt);
const xt = document.createElement("div");
xt.textContent = "Time (Year, unmber of years from 2015-2020)";
xt.style.cssText = "position:absolute;left:161px;top:507px;width:400px;text-align:center;font-weight:bold;font-size:13px;line-height:16px;white-space:nowrap;";
chart.appendChild(xt);
</script>
</body></html>
